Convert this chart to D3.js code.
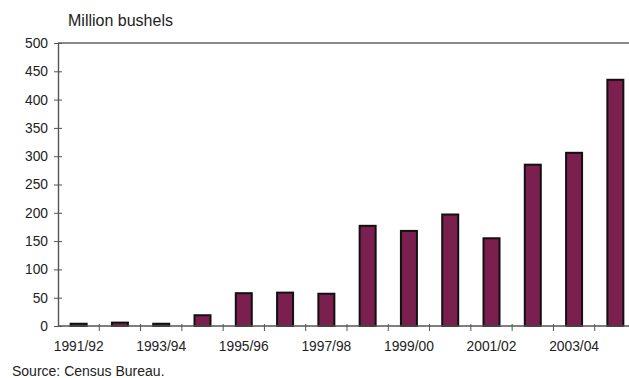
<!DOCTYPE html>
<html>
<head>
<meta charset="utf-8">
<script src="https://cdn.jsdelivr.net/npm/d3@7"></script>
<style>
  html, body { margin: 0; padding: 0; background: #fff; }
  svg { display: block; font-family: Arial, "Liberation Sans", sans-serif; }
</style>
</head>
<body>
<svg id="chart" width="629" height="378"></svg>
<script>
// Marketing years
const years = ["1991/92","1992/93","1993/94","1994/95","1995/96","1996/97","1997/98",
               "1998/99","1999/00","2000/01","2001/02","2002/03","2003/04","2004/05"];
// Million bushels
const bushels = [4, 6, 4, 19, 58, 59, 57, 177, 168, 197, 155, 285, 306, 435];
// Axis ticks
const yTicks = [0, 50, 100, 150, 200, 250, 300, 350, 400, 450, 500];
const xLabels = ["1991/92","1993/94","1995/96","1997/98","1999/00","2001/02","2003/04"];

const svg = d3.select("#chart");
const plotLeft = 58, plotRight = 636, plotTop = 43, plotBottom = 326;

const xb = d3.scaleBand().domain(years).range([plotLeft, plotRight]);
const y = d3.scaleLinear().domain([0, 500]).range([plotBottom, plotTop]);

// top frame line at 500
svg.append("line")
  .attr("x1", plotLeft).attr("x2", 629)
  .attr("y1", y(500)).attr("y2", y(500))
  .attr("stroke", "#666").attr("stroke-width", 1.6);

// bars
svg.append("g").selectAll("rect").data(years).join("rect")
  .attr("x", d => xb(d) + xb.bandwidth() / 2 - 8)
  .attr("width", 16)
  .attr("y", (d, i) => y(bushels[i]))
  .attr("height", (d, i) => y(0) - y(bushels[i]))
  .attr("fill", "#7b1f4e")
  .attr("stroke", "#111")
  .attr("stroke-width", 2);

// y axis
const yAxis = svg.append("g").attr("transform", `translate(${plotLeft},0)`)
  .call(d3.axisLeft(y).tickValues(yTicks).tickSize(4).tickSizeOuter(0).tickPadding(6));
yAxis.select(".domain").attr("stroke", "#555").attr("stroke-width", 1.4);
yAxis.selectAll(".tick line").attr("stroke", "#555").attr("x1", -4).attr("x2", 4);
yAxis.selectAll(".tick text").attr("font-size", 13.8).attr("fill", "#222")
  .attr("font-family", "Arial, 'Liberation Sans', sans-serif").attr("x", -10);

// x axis: ticks on category boundaries
const xAxisG = svg.append("g").attr("transform", `translate(0,${plotBottom})`);
xAxisG.append("line").attr("x1", plotLeft).attr("x2", 629).attr("y1", 0).attr("y2", 0)
  .attr("stroke", "#555").attr("stroke-width", 1.4);
xAxisG.selectAll("line.tick").data(years.slice(1)).join("line")
  .attr("class", "tick")
  .attr("x1", d => xb(d)).attr("x2", d => xb(d))
  .attr("y1", -2).attr("y2", 5)
  .attr("stroke", "#555").attr("stroke-width", 1);
xAxisG.selectAll("text").data(xLabels).join("text")
  .attr("x", d => xb(d) + xb.bandwidth() / 2)
  .attr("y", 25)
  .attr("text-anchor", "middle")
  .attr("font-size", 13.8).attr("fill", "#222")
  .text(d => d);

// unit label
svg.append("text").attr("x", 68).attr("y", 26)
  .attr("font-size", 16).attr("fill", "#222").text("Million bushels");

// source
svg.append("text").attr("x", 12).attr("y", 376)
  .attr("font-size", 14).attr("fill", "#222").text("Source: Census Bureau.");
</script>
</body>
</html>
